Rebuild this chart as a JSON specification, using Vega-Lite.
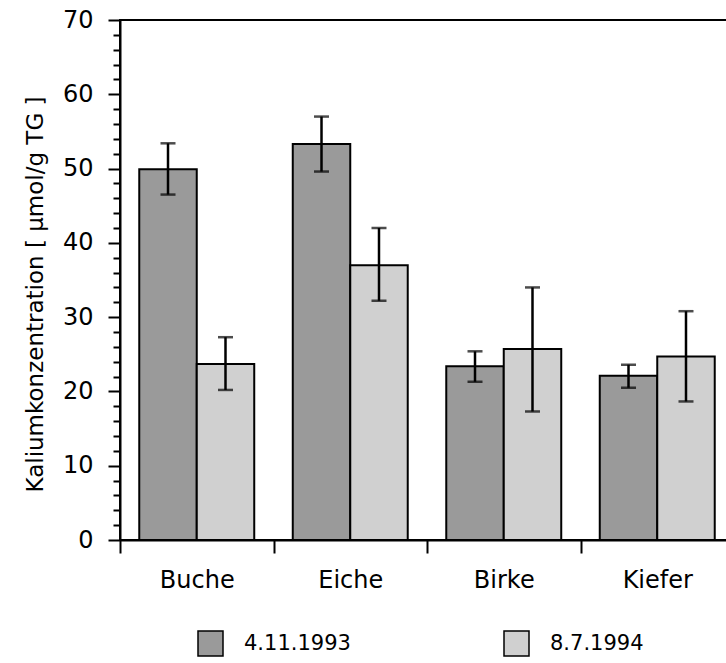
{
  "$schema": "https://vega.github.io/schema/vega-lite/v6.json",
  "width": 614,
  "height": 520,
  "autosize": {"type": "none"},
  "padding": {"left": 120, "top": 20, "right": 0, "bottom": 123},
  "background": "white",
  "config": {
    "font": "DejaVu Sans",
    "view": {"stroke": "black", "strokeWidth": 2},
    "axis": {"domainColor": "black", "tickColor": "black", "labelColor": "black", "titleColor": "black", "grid": false, "domainWidth": 2, "tickWidth": 2}
  },
  "data": {
    "values": [
      {"species": "Buche", "date": "4.11.1993", "value": 49.9, "lo": 46.5, "hi": 53.4},
      {"species": "Buche", "date": "8.7.1994", "value": 23.7, "lo": 20.2, "hi": 27.3},
      {"species": "Eiche", "date": "4.11.1993", "value": 53.3, "lo": 49.6, "hi": 57.0},
      {"species": "Eiche", "date": "8.7.1994", "value": 37.0, "lo": 32.2, "hi": 42.0},
      {"species": "Birke", "date": "4.11.1993", "value": 23.4, "lo": 21.3, "hi": 25.4},
      {"species": "Birke", "date": "8.7.1994", "value": 25.7, "lo": 17.3, "hi": 34.0},
      {"species": "Kiefer", "date": "4.11.1993", "value": 22.1, "lo": 20.5, "hi": 23.6},
      {"species": "Kiefer", "date": "8.7.1994", "value": 24.7, "lo": 18.65, "hi": 30.8}
    ]
  },
  "encoding": {
    "x": {
      "field": "species", "type": "nominal",
      "sort": ["Buche", "Eiche", "Birke", "Kiefer"],
      "scale": {"paddingInner": 0, "paddingOuter": 0},
      "axis": {"title": null, "labelAngle": 0, "tickBand": "extent", "tickSize": 13, "labelFontSize": 24, "labelPadding": 15}
    },
    "xOffset": {
      "field": "date", "type": "nominal",
      "sort": ["4.11.1993", "8.7.1994"],
      "scale": {"paddingInner": 0, "paddingOuter": 0.335}
    }
  },
  "layer": [
    {
      "mark": {"type": "bar", "stroke": "black", "strokeWidth": 2},
      "encoding": {
        "y": {
          "field": "value", "type": "quantitative",
          "title": "Kaliumkonzentration  [ µmol/g TG ]",
          "scale": {"domain": [0, 70], "nice": false},
          "axis": {
            "titleFontSize": 23, "titleFontWeight": "normal",
            "titleX": -78, "titleY": 274, "titleAngle": -90, "titleAlign": "center", "titleBaseline": "alphabetic",
            "values": [0,2,4,6,8,10,12,14,16,18,20,22,24,26,28,30,32,34,36,38,40,42,44,46,48,50,52,54,56,58,60,62,64,66,68,70],
            "tickCount": 40,
            "labelOverlap": false,
            "labelExpr": "datum.value % 10 === 0 ? datum.label : ''",
            "tickSize": {"condition": {"test": "datum.value % 10 === 0", "value": 12}, "value": 7},
            "labelFontSize": 24, "labelPadding": 15
          }
        },
        "fill": {
          "field": "date", "type": "nominal",
          "sort": ["4.11.1993", "8.7.1994"],
          "scale": {"range": ["#9a9a9a", "#d0d0d0"]},
          "legend": {
            "orient": "none", "legendX": 77, "legendY": 610,
            "direction": "horizontal", "title": null,
            "symbolType": "square", "symbolSize": 625,
            "symbolStrokeColor": "black", "symbolStrokeWidth": 1.5,
            "labelFontSize": 21, "labelOffset": 20, "labelColor": "black",
            "columnPadding": 150, "padding": 0
          }
        }
      }
    },
    {
      "mark": {"type": "rule", "strokeWidth": 2.5, "color": "black"},
      "encoding": {
        "y": {"field": "lo", "type": "quantitative", "title": "Kaliumkonzentration  [ µmol/g TG ]"},
        "y2": {"field": "hi"}
      }
    },
    {
      "mark": {"type": "tick", "color": "black", "thickness": 2.5, "size": 15},
      "encoding": {"y": {"field": "hi", "type": "quantitative", "title": "Kaliumkonzentration  [ µmol/g TG ]"}}
    },
    {
      "mark": {"type": "tick", "color": "black", "thickness": 2.5, "size": 15},
      "encoding": {"y": {"field": "lo", "type": "quantitative", "title": "Kaliumkonzentration  [ µmol/g TG ]"}}
    }
  ]
}
